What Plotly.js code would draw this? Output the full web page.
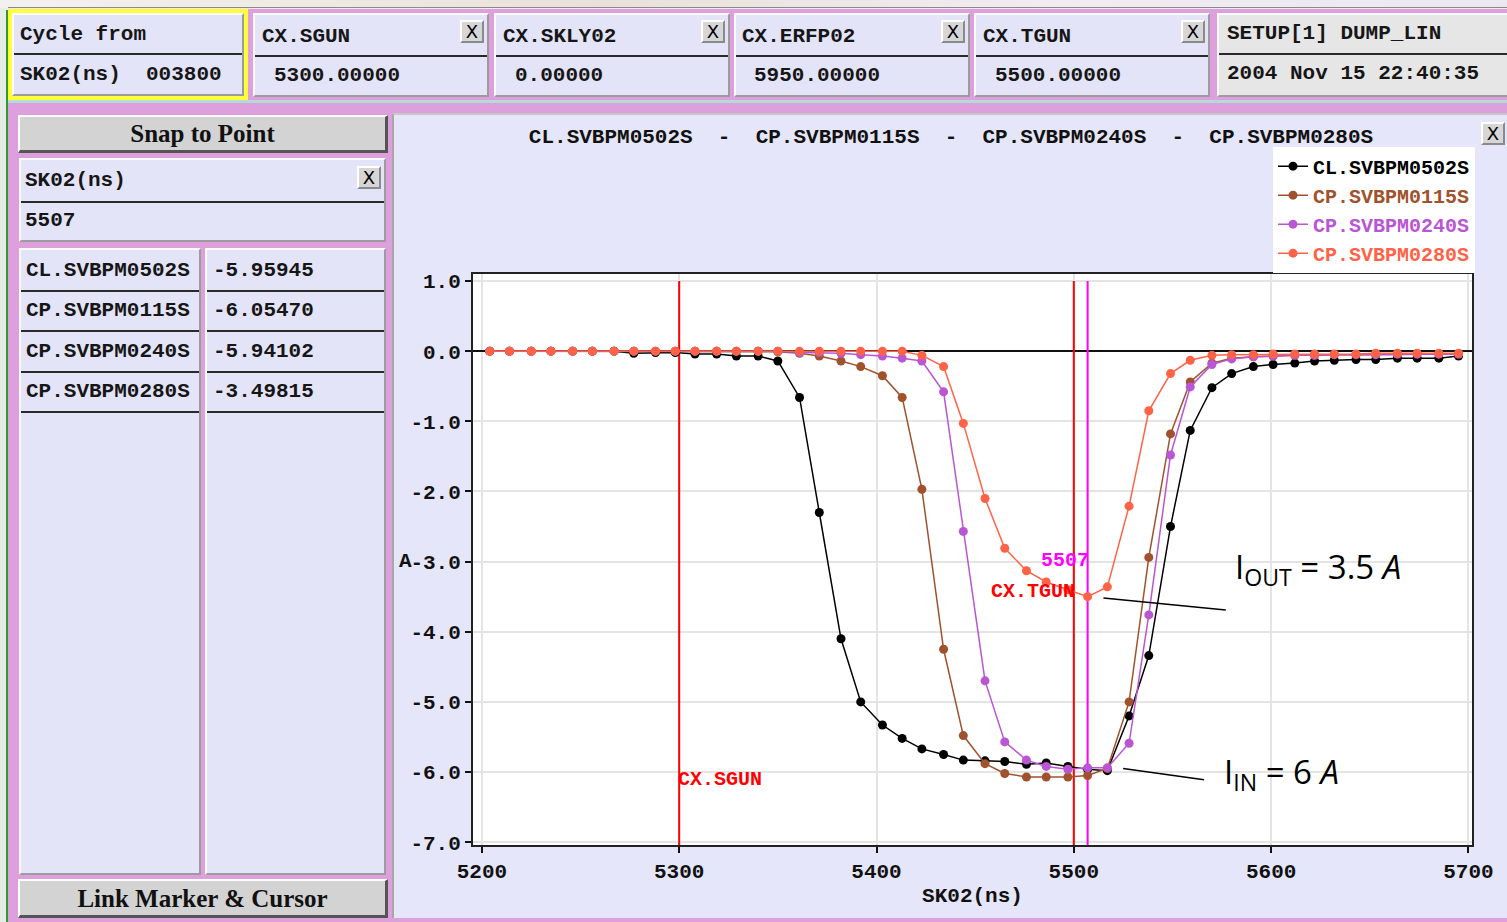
<!DOCTYPE html>
<html>
<head>
<meta charset="utf-8">
<script src="https://cdn.plot.ly/plotly-3.0.1.min.js"></script>
<style>
  html,body{margin:0;padding:0;}
  body{width:1507px;height:922px;position:relative;overflow:hidden;background:#EEEAEE;
       font-family:"Liberation Mono",monospace;font-weight:bold;color:#161616;}
  .abs{position:absolute;box-sizing:border-box;}
  .panel{position:absolute;box-sizing:border-box;background:#E4E4F8;
         border-top:2px solid #FAFAFF;border-left:2px solid #FAFAFF;
         border-right:2px solid #9C9C9C;border-bottom:2px solid #9C9C9C;}
  .txt{position:absolute;font-size:21px;line-height:22px;white-space:pre;}
  .div{position:absolute;left:0;right:0;height:2px;background:#2A2A2A;}
  .xbtn{position:absolute;width:24px;height:23px;box-sizing:border-box;background:#D6D6D6;
        border-top:2px solid #FFF;border-left:2px solid #FFF;border-right:2px solid #8A8A8A;border-bottom:2px solid #8A8A8A;
        font-family:"DejaVu Sans",sans-serif;font-weight:normal;font-size:18px;line-height:19px;text-align:center;color:#000;}
  .btn{position:absolute;box-sizing:border-box;background:#D3D3D3;
       border-top:2px solid #FFF;border-left:2px solid #FFF;border-right:3px solid #555;border-bottom:3px solid #555;
       font-family:"Liberation Serif",serif;font-weight:bold;font-size:25px;text-align:center;color:#111;}
</style>
</head>
<body>
<!-- background strips -->
<div class="abs" style="left:0;top:0;width:1507px;height:8px;background:linear-gradient(90deg,#F3F1EF,#E9E2DA 40%,#F0ECF2 70%,#ECE8F0);"></div>
<div class="abs" style="left:8px;top:7px;width:1499px;height:1px;background:#8A8A8A;"></div>
<div class="abs" style="left:0;top:8px;width:6px;height:914px;background:#E6ECE6;"></div>
<div class="abs" style="left:6px;top:10px;width:2px;height:912px;background:#2F9A2F;"></div>

<!-- top row -->
<div class="abs" style="left:8px;top:9px;width:240px;height:91px;background:#FFFF3A;"></div>
<div class="panel" style="left:12px;top:13px;width:232px;height:83px;">
  <div class="txt" style="left:6px;top:9px;">Cycle from</div>
  <div class="div" style="top:38px;"></div>
  <div class="txt" style="left:6px;top:49px;">SK02(ns)  003800</div>
</div>
<div class="abs" style="left:248px;top:9px;width:966px;height:91px;background:#DDA0DD;"></div>
<div class="panel" style="left:253px;top:13px;width:236px;height:84px;">
  <div class="txt" style="left:7px;top:11px;">CX.SGUN</div>
  <div class="xbtn" style="left:205px;top:5px;">X</div>
  <div class="div" style="top:40px;"></div>
  <div class="txt" style="left:19px;top:50px;">5300.00000</div>
</div>
<div class="panel" style="left:494px;top:13px;width:236px;height:84px;">
  <div class="txt" style="left:7px;top:11px;">CX.SKLY02</div>
  <div class="xbtn" style="left:205px;top:5px;">X</div>
  <div class="div" style="top:40px;"></div>
  <div class="txt" style="left:19px;top:50px;">0.00000</div>
</div>
<div class="panel" style="left:734px;top:13px;width:236px;height:84px;">
  <div class="txt" style="left:6px;top:11px;">CX.ERFP02</div>
  <div class="xbtn" style="left:205px;top:5px;">X</div>
  <div class="div" style="top:40px;"></div>
  <div class="txt" style="left:18px;top:50px;">5950.00000</div>
</div>
<div class="panel" style="left:974px;top:13px;width:236px;height:84px;">
  <div class="txt" style="left:7px;top:11px;">CX.TGUN</div>
  <div class="xbtn" style="left:205px;top:5px;">X</div>
  <div class="div" style="top:40px;"></div>
  <div class="txt" style="left:19px;top:50px;">5500.00000</div>
</div>
<div class="abs" style="left:1214px;top:9px;width:293px;height:91px;background:#DDA0DD;"></div>
<div class="panel" style="left:1217px;top:13px;width:292px;height:84px;background:#E6E6E6;">
  <div class="txt" style="left:8px;top:8px;">SETUP[1] DUMP_LIN</div>
  <div class="div" style="top:38px;"></div>
  <div class="txt" style="left:8px;top:48px;">2004 Nov 15 22:40:35</div>
</div>

<!-- separator -->
<div class="abs" style="left:8px;top:100px;width:1499px;height:3px;background:#B4DADA;"></div>
<div class="abs" style="left:8px;top:103px;width:1499px;height:819px;background:#DDA0DD;"></div>

<!-- left column -->
<div class="btn" style="left:18px;top:115px;width:370px;height:38px;line-height:33px;">Snap to Point</div>
<div class="panel" style="left:19px;top:158px;width:367px;height:84px;">
  <div class="txt" style="left:4px;top:10px;">SK02(ns)</div>
  <div class="xbtn" style="left:336px;top:6px;">X</div>
  <div class="div" style="top:41px;"></div>
  <div class="txt" style="left:4px;top:50px;">5507</div>
</div>
<div class="panel" style="left:19px;top:248px;width:182px;height:627px;">
  <div class="txt" style="left:5px;top:10px;">CL.SVBPM0502S</div>
  <div class="div" style="top:40px;"></div>
  <div class="txt" style="left:5px;top:50px;">CP.SVBPM0115S</div>
  <div class="div" style="top:80px;"></div>
  <div class="txt" style="left:5px;top:91px;">CP.SVBPM0240S</div>
  <div class="div" style="top:121px;"></div>
  <div class="txt" style="left:5px;top:131px;">CP.SVBPM0280S</div>
  <div class="div" style="top:161px;"></div>
</div>
<div class="panel" style="left:205px;top:248px;width:181px;height:627px;">
  <div class="txt" style="left:6px;top:10px;">-5.95945</div>
  <div class="div" style="top:40px;"></div>
  <div class="txt" style="left:6px;top:50px;">-6.05470</div>
  <div class="div" style="top:80px;"></div>
  <div class="txt" style="left:6px;top:91px;">-5.94102</div>
  <div class="div" style="top:121px;"></div>
  <div class="txt" style="left:6px;top:131px;">-3.49815</div>
  <div class="div" style="top:161px;"></div>
</div>
<div class="btn" style="left:18px;top:879px;width:370px;height:39px;line-height:35px;">Link Marker &amp; Cursor</div>

<!-- chart panel -->
<div class="abs" style="left:392px;top:113px;width:1115px;height:805px;background:#E6E6FA;border-left:2px solid #A8A8A8;border-top:2px solid #C8C8C8;"></div>
<div id="chart" class="abs" style="left:395px;top:115px;width:1112px;height:802px;"></div>
<div class="xbtn" style="left:1481px;top:122px;">X</div>

<script>
// ---------- data ----------
const seriesNames = ["CL.SVBPM0502S", "CP.SVBPM0115S", "CP.SVBPM0240S", "CP.SVBPM0280S"];
const seriesColors = ["#000000", "#A0522D", "#BA55D3", "#FF6347"];

const sk02 = [5204,5214,5225,5235,5246,5256,5267,5277,5288,5298,
              5308,5319,5329,5340,5350,5361,5371,5382,5392,5403,
              5413,5423,5434,5444,5455,5465,5476,5486,5497,5507,
              5517,5528,5538,5549,5559,5570,5580,5591,5601,5612,
              5622,5632,5643,5653,5664,5674,5685,5695];

const cl0502 = [0,0,0,0,0,0,0,-0.03,-0.02,-0.02,
                -0.04,-0.04,-0.07,-0.07,-0.14,-0.66,-2.30,-4.10,-5.00,-5.33,
                -5.52,-5.67,-5.75,-5.83,-5.84,-5.85,-5.89,-5.87,-5.92,-5.96,
                -5.98,-5.20,-4.34,-2.50,-1.13,-0.52,-0.32,-0.22,-0.19,-0.17,
                -0.14,-0.13,-0.12,-0.12,-0.10,-0.10,-0.10,-0.07];

const cp0115 = [0,0,0,0,0,0,0,0,0,0,
                0,0,0,0,-0.01,-0.03,-0.07,-0.14,-0.22,-0.35,
                -0.66,-1.97,-4.25,-5.48,-5.88,-6.02,-6.07,-6.07,-6.07,-6.05,
                -5.95,-5.00,-2.94,-1.18,-0.44,-0.17,-0.10,-0.08,-0.07,-0.06,
                -0.06,-0.05,-0.05,-0.05,-0.04,-0.04,-0.04,-0.04];

const cp0240 = [0,0,0,0,0,0,0,0,0,0,
                0,0,0,0,0,-0.02,-0.02,-0.03,-0.05,-0.07,
                -0.10,-0.14,-0.58,-2.57,-4.70,-5.57,-5.83,-5.92,-5.96,-5.94,
                -5.94,-5.59,-3.76,-1.48,-0.51,-0.19,-0.11,-0.08,-0.07,-0.06,
                -0.06,-0.05,-0.05,-0.05,-0.04,-0.04,-0.04,-0.04];

const cp0280 = [0,0,0,0,0,0,0,0,0,0,
                0,0,0,0,0,0,0,0,0,0,
                0,-0.06,-0.22,-1.03,-2.10,-2.81,-3.13,-3.29,-3.40,-3.50,
                -3.36,-2.21,-0.85,-0.32,-0.13,-0.06,-0.05,-0.05,-0.04,-0.04,
                -0.04,-0.04,-0.04,-0.03,-0.03,-0.03,-0.03,-0.03];

const xTickVals = [5200, 5300, 5400, 5500, 5600, 5700];
const yTickVals = [1, 0, -1, -2, -3, -4, -5, -6, -7];
const yTickText = ["1.0", "0.0", "-1.0", "-2.0", "-3.0", "-4.0", "-5.0", "-6.0", "-7.0"];

const markerLines = [
  {x: 5300, label: "CX.SGUN", color: "#FF0000", labelY: -6.1, side: "left"},
  {x: 5500, label: "CX.TGUN", color: "#FF0000", labelY: -3.43, side: "right"},
  {x: 5507, label: "5507", color: "#FF00FF", labelY: -2.99, side: "right"}
];

// ---------- chart ----------
const FONT = "Liberation Mono, monospace";
const allY = [cl0502, cp0115, cp0240, cp0280];
const traces = allY.map((ys, i) => ({
  x: sk02, y: ys, type: "scatter", mode: "lines+markers",
  name: '<span style="color:' + seriesColors[i] + '">' + seriesNames[i] + '</span>',
  line: {color: seriesColors[i], width: 1.5},
  marker: {color: seriesColors[i], size: 9}
}));

const shapes = markerLines.map(m => ({
  type: "line", xref: "x", yref: "y", x0: m.x, x1: m.x, y0: 1.0, y1: -7.04,
  line: {color: m.color, width: 2}, layer: "between"
}));
shapes.push({type: "line", xref: "x", yref: "y", x0: 5515, y0: -3.52, x1: 5577, y1: -3.69, line: {color: "#000", width: 1.5}});
shapes.push({type: "line", xref: "x", yref: "y", x0: 5525, y0: -5.95, x1: 5566, y1: -6.11, line: {color: "#000", width: 1.5}});

const annotations = markerLines.map(m => ({
  x: m.x, y: m.labelY, xref: "x", yref: "y", text: m.label, showarrow: false,
  xanchor: m.side, yanchor: "middle", xshift: m.side === "left" ? -3 : 3,
  font: {family: FONT, size: 20, color: m.color, weight: "bold"}
}));
annotations.push({
  xref: "paper", yref: "y", x: -0.068, y: -3.0, text: "A", showarrow: false,
  xanchor: "center", yanchor: "middle",
  font: {family: FONT, size: 21, color: "#111", weight: "bold"}
});
annotations.push({
  xref: "x", yref: "y", x: 5580.5, y: -3.1, text: "I<sub>OUT</sub> = 3.5 <i>A</i>", showarrow: false,
  xanchor: "left", yanchor: "middle",
  font: {family: "Open Sans, sans-serif", size: 33, color: "#000", weight: "normal"}
});
annotations.push({
  xref: "x", yref: "y", x: 5575, y: -6.02, text: "I<sub>IN</sub> = 6 <i>A</i>", showarrow: false,
  xanchor: "left", yanchor: "middle",
  font: {family: "Open Sans, sans-serif", size: 33, color: "#000", weight: "normal"}
});

const titleText = seriesNames.join("\u00a0\u00a0-\u00a0\u00a0");

const layout = {
  width: 1112, height: 802,
  margin: {l: 78, r: 35, t: 159, b: 72},
  paper_bgcolor: "#E6E6FA", plot_bgcolor: "#FFFFFF",
  font: {family: FONT, size: 21, color: "#111", weight: "bold"},
  title: {text: titleText, x: 0.5, xanchor: "center", y: 0.974, yanchor: "middle",
          font: {family: FONT, size: 21, color: "#111", weight: "bold"}},
  showlegend: true,
  legend: {x: 1.003, xanchor: "right", y: 1.223, yanchor: "top", bgcolor: "#FFFFFF",
           borderwidth: 0, font: {family: FONT, size: 20, weight: "bold"}, itemwidth: 30,
           tracegroupgap: 0},
  xaxis: {range: [5195.5, 5701.8], tickvals: xTickVals, ticks: "outside", ticklen: 6, tickwidth: 2,
          tickcolor: "#111", showline: true, linewidth: 2, linecolor: "#222", mirror: true,
          showgrid: true, gridcolor: "#E4E4E4", gridwidth: 2, zeroline: false,
          tickfont: {family: FONT, size: 21, color: "#111", weight: "bold"},
          title: {text: "SK02(ns)", standoff: 4, font: {family: FONT, size: 21, color: "#111", weight: "bold"}}},
  yaxis: {range: [-7.04, 1.1], tickvals: yTickVals, ticktext: yTickText, ticks: "outside", ticklen: 6,
          tickwidth: 2, tickcolor: "#111", showline: true, linewidth: 2, linecolor: "#222", mirror: true,
          showgrid: true, gridcolor: "#E4E4E4", gridwidth: 2,
          zeroline: true, zerolinecolor: "#111", zerolinewidth: 2,
          tickfont: {family: FONT, size: 21, color: "#111", weight: "bold"}},
  shapes: shapes,
  annotations: annotations
};

Plotly.newPlot("chart", traces, layout, {staticPlot: true, displayModeBar: false});
</script>
</body>
</html>
